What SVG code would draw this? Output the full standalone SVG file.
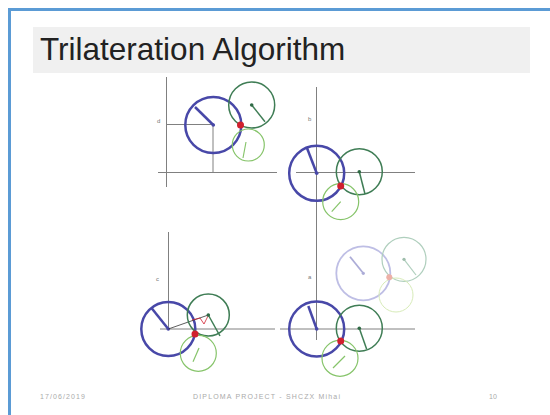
<svg xmlns="http://www.w3.org/2000/svg" width="550" height="415" viewBox="0 0 550 415">
<style>
.axis{stroke:#808080;stroke-width:1;fill:none}
.blue{stroke:#4848a8;stroke-width:2.5;fill:none}
.bluer{stroke:#4848a8;stroke-width:2.5}
.dg{stroke:#3f7d55;stroke-width:1.5;fill:none}
.dgr{stroke:#3f7d55;stroke-width:1.5}
.lg{stroke:#86c46a;stroke-width:1.2;fill:none}
.lgr{stroke:#86c46a;stroke-width:1.2}
.red{fill:#d0202e}
.ctr{fill:#4848a8}
.gctr{fill:#2f6a45}
.lbl{font-family:'Liberation Sans',Arial,sans-serif;font-size:6px;fill:#777}
.foot{font-family:'Liberation Sans',Arial,sans-serif;font-size:7px;fill:#aaa}
.faint{opacity:0.55}
</style>
<rect x="0" y="0" width="550" height="415" fill="#fff"/>
<rect x="9.5" y="9.5" width="600" height="500" fill="none" stroke="#5b9bd5" stroke-width="3"/>
<g id="title">
<rect x="33" y="27" width="497" height="46" fill="#f0f0f0"/>
<text x="40" y="60" font-family="'Liberation Sans',Arial,sans-serif" font-size="31.5" fill="#222">Trilateration Algorithm</text>
</g>
<g id="panel1">
<line class="axis" x1="166.5" y1="77" x2="166.5" y2="187"/>
<line class="axis" x1="158" y1="172.5" x2="277" y2="172.5"/>
<line class="axis" x1="167" y1="124.5" x2="213" y2="124.5"/>
<line class="axis" x1="213" y1="125" x2="213" y2="172.5"/>
<text class="lbl" x="157" y="123">d</text>
<circle class="blue" cx="213.3" cy="125" r="28"/>
<line class="bluer" x1="213.3" y1="125" x2="195" y2="107"/>
<circle class="ctr" cx="213.3" cy="125" r="1.8"/>
<circle class="dg" cx="251.7" cy="105" r="23"/>
<line class="dgr" x1="251.7" y1="105" x2="265" y2="121.7"/>
<circle class="gctr" cx="251.7" cy="105" r="1.8"/>
<circle class="lg" cx="248.3" cy="145" r="16"/>
<line class="lgr" x1="243" y1="158" x2="246" y2="142"/>
<circle class="red" cx="240.5" cy="125" r="3.5"/>
</g>
<g id="panel2">
<line class="axis" x1="316.5" y1="87" x2="316.5" y2="237"/>
<line class="axis" x1="296" y1="172.5" x2="415" y2="172.5"/>
<text class="lbl" x="308" y="121">b</text>
<circle class="blue" cx="316.7" cy="173.3" r="27.5"/>
<line class="bluer" x1="316.7" y1="173.3" x2="306.7" y2="147.3"/>
<circle class="ctr" cx="316.7" cy="173.3" r="1.8"/>
<circle class="dg" cx="359.3" cy="171.7" r="23"/>
<line class="dgr" x1="359.3" y1="171.7" x2="365" y2="194"/>
<circle class="gctr" cx="359.3" cy="171.7" r="1.8"/>
<circle class="lg" cx="340.7" cy="201.7" r="18"/>
<line class="lgr" x1="331.7" y1="211.7" x2="340.7" y2="201.7"/>
<circle class="red" cx="340.7" cy="186" r="3.5"/>
</g>
<g id="panel3">
<line class="axis" x1="168.5" y1="232" x2="168.5" y2="330"/>
<line class="axis" x1="160" y1="329" x2="275" y2="329"/>
<text class="lbl" x="156" y="281">c</text>
<circle class="blue" cx="168.3" cy="329" r="27"/>
<line class="bluer" x1="168.3" y1="329" x2="151.7" y2="308.3"/>
<circle class="ctr" cx="168.3" cy="329" r="1.8"/>
<line stroke="#333" stroke-width="0.8" x1="168.3" y1="329" x2="208.3" y2="315"/>
<polyline fill="none" stroke="#d0202e" stroke-width="0.8" points="192,320 200,318 204,324 208,316"/>
<circle class="dg" cx="208.3" cy="315" r="21"/>
<line class="dgr" x1="208.3" y1="315" x2="220" y2="336"/>
<circle class="gctr" cx="208.3" cy="315" r="1.8"/>
<circle class="lg" cx="198.3" cy="353.3" r="18"/>
<line class="lgr" x1="193" y1="361.7" x2="199" y2="348"/>
<circle class="red" cx="195" cy="334" r="3.5"/>
</g>
<g id="panel4">
<line class="axis" x1="316.5" y1="232" x2="316.5" y2="340"/>
<line class="axis" x1="280" y1="329" x2="415" y2="329"/>
<text class="lbl" x="308" y="279">a</text>
<g class="faint">
<circle fill="none" stroke="#8a8ad0" stroke-width="1.8" cx="363.3" cy="273.3" r="27"/>
<line stroke="#6a6ab8" stroke-width="1.8" x1="363.3" y1="273.3" x2="350" y2="256.7"/>
<circle fill="#6a6ab8" cx="363.3" cy="273.3" r="1.6"/>
<circle fill="none" stroke="#6fa888" stroke-width="1.2" cx="404" cy="259.3" r="22"/>
<line stroke="#6fa888" stroke-width="1.2" x1="404" y1="259.3" x2="416" y2="275"/>
<circle fill="#4f8868" cx="404" cy="259.3" r="1.6"/>
<circle fill="none" stroke="#b8dc80" stroke-width="1" cx="396" cy="295" r="17"/>
<circle fill="#e07060" cx="389.3" cy="277.3" r="3"/>
</g>
<circle class="blue" cx="316.7" cy="329" r="27.5"/>
<line class="bluer" x1="316.7" y1="329" x2="308.3" y2="306"/>
<circle class="ctr" cx="316.7" cy="329" r="1.8"/>
<circle class="dg" cx="359.3" cy="328.3" r="23"/>
<line class="dgr" x1="359.3" y1="328.3" x2="366.7" y2="349.3"/>
<circle class="gctr" cx="359.3" cy="328.3" r="1.8"/>
<circle class="lg" cx="340" cy="358.3" r="18"/>
<line class="lgr" x1="333" y1="368" x2="345" y2="356"/>
<circle class="red" cx="340.7" cy="341" r="3.5"/>
</g>
<g id="footer">
<text class="foot" x="40" y="399" textLength="45">17/06/2019</text>
<text class="foot" x="193" y="399" textLength="147">DIPLOMA PROJECT - SHCZX Mihai</text>
<text class="foot" x="489" y="399">10</text>
</g>
</svg>
